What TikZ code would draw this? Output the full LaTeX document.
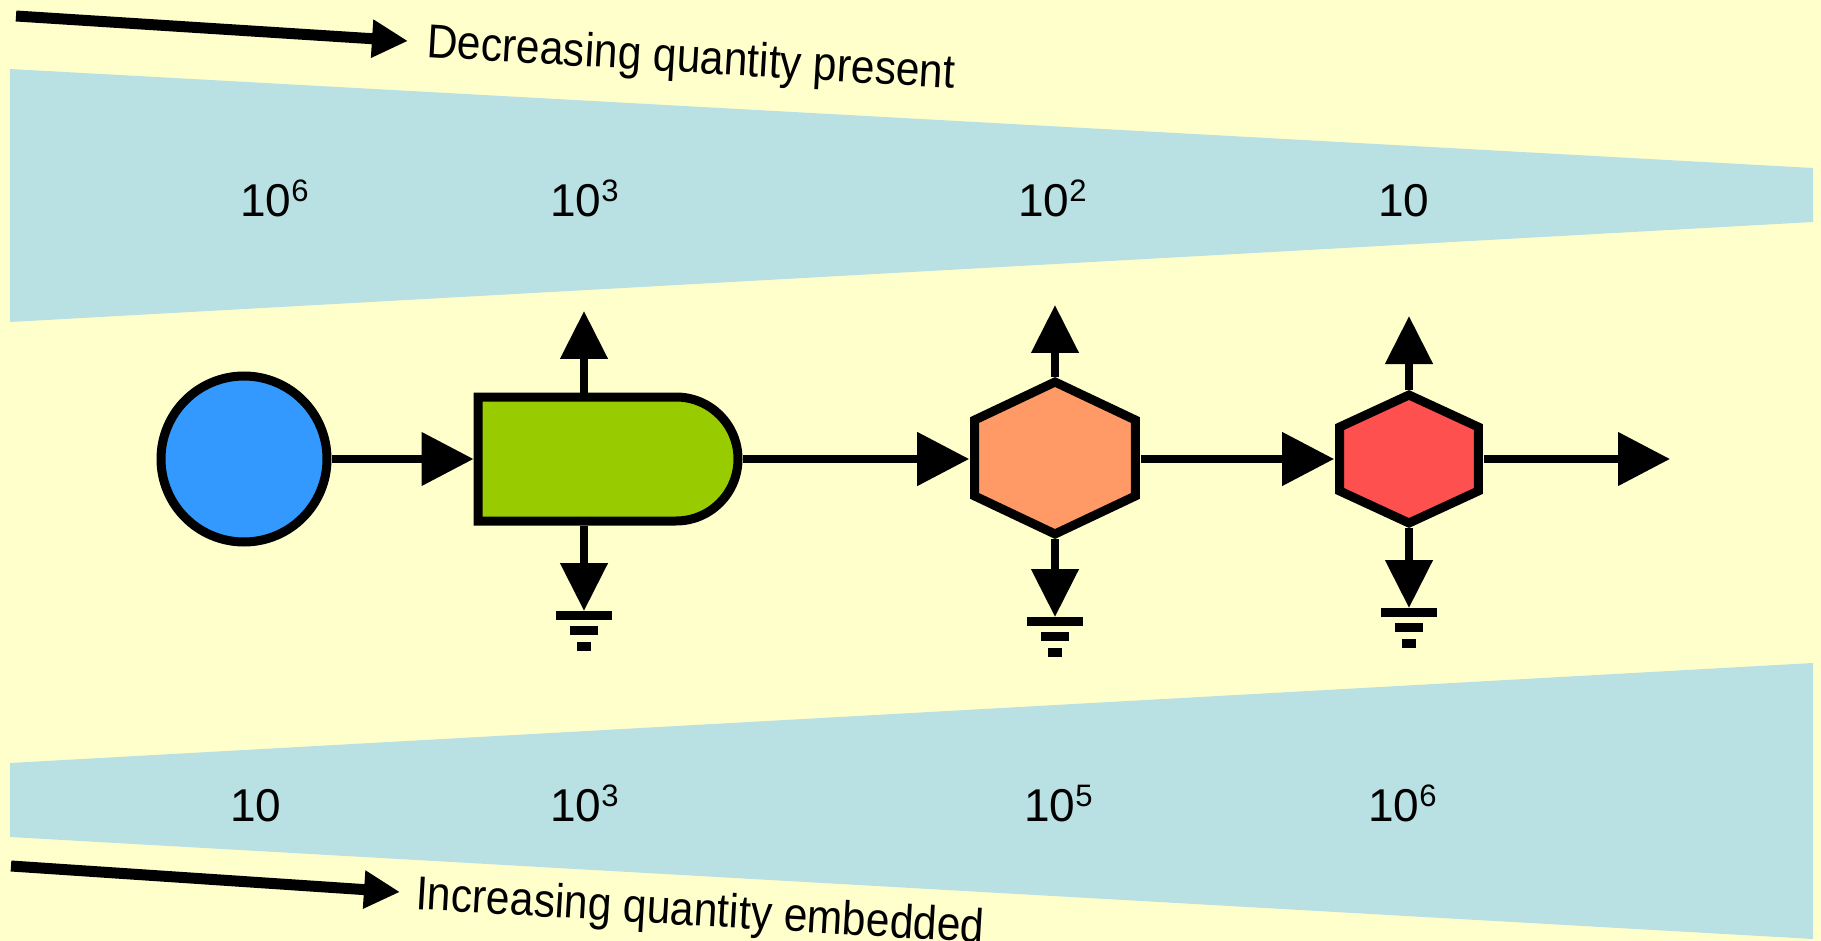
\documentclass[tikz,border=0pt]{standalone}
\usepackage{fontspec}
\setmainfont{Liberation Sans}
\usetikzlibrary{arrows.meta,shapes.geometric,shapes.misc}

\definecolor{paper}{RGB}{255,255,204}
\definecolor{band}{RGB}{185,224,227}
\definecolor{srcblue}{RGB}{51,153,255}
\definecolor{tankgreen}{RGB}{153,204,0}
\definecolor{hexorange}{RGB}{255,153,102}
\definecolor{hexred}{RGB}{255,80,80}

% power of ten exponent
\newcommand{\pw}[1]{\raisebox{15pt}{\fontsize{31pt}{31pt}\selectfont #1}}

\tikzset{
  unit/.style={draw=black,line width=9pt,inner sep=0pt},
  hexa/.style={regular polygon,regular polygon sides=6,shape border rotate=30},
  flow/.style={line width=8pt,-{Triangle[length=52pt,width=52pt]}},
  vent/.style={line width=8pt,-{Triangle[length=48pt,width=46pt]}},
  trend/.style={line width=11pt,-{Triangle[length=36pt,width=36pt]}},
  num/.style={font=\fontsize{46pt}{52pt}\selectfont,anchor=base west,inner sep=0pt},
  note/.style={font=\fontsize{42.5pt}{48pt}\selectfont,anchor=base west,inner sep=0pt,
    rotate=-3.4,yscale=1.12},
  earth/.pic={
    \fill (-28,0) rectangle (28,9);
    \fill (-14,15) rectangle (14,24);
    \fill (-7,31) rectangle (7,40);
  }
}

\begin{document}
\begin{tikzpicture}[x=1pt,y=-1pt]
\fill[paper] (0,0) rectangle (1821,941);
\path[use as bounding box] (0,0) rectangle (1821,941);

% the two bands
\fill[band] (10,69) -- (1813,168) -- (1813,222) -- (10,322) -- cycle;
\fill[band] (10,763) -- (1813,663) -- (1813,939) -- (10,837) -- cycle;

% quantities present
\node[num] (pa) at (240,217) {10\pw{6}};
\node[num] (pb) at (550,217) {10\pw{3}};
\node[num] (pc) at (1018,217) {10\pw{2}};
\node[num] (pd) at (1378,217) {10};
% quantities embedded
\node[num] (ea) at (230,821) {10};
\node[num] (eb) at (550,821) {10\pw{3}};
\node[num] (ec) at (1024,821) {10\pw{5}};
\node[num] (ed) at (1368,821) {10\pw{6}};

% trend arrows
\coordinate (ptail) at (16,16);
\coordinate (phead) at (408,41);
\draw[trend] (ptail) -- (phead);
\node[note] (ptext) at (426,57) {Decreasing quantity present};
\coordinate (etail) at (11,866);
\coordinate (ehead) at (400,892);
\draw[trend] (etail) -- (ehead);
\node[note] (etext) at (415,909) {Increasing quantity embedded};

% process chain
\node[unit,circle,fill=srcblue,minimum size=166pt] (src) at (244,459) {};
\node[unit,rounded rectangle,rounded rectangle left arc=none,fill=tankgreen,
  minimum width=260pt,minimum height=124pt] (tank) at (608,459) {};
\node[unit,hexa,fill=hexorange,minimum size=152pt,xscale=1.22] (hexA) at (1055,458) {};
\node[unit,hexa,fill=hexred,minimum size=128pt,xscale=1.25] (hexB) at (1409,459) {};
\coordinate (out) at (1670,459);

\draw[flow] (src.east) -- (tank.west);
\draw[flow] (tank.east) -- (hexA.west |- tank.east);
\draw[flow] (hexA.east |- tank.east) -- (hexB.west);
\draw[flow] (hexB.east) -- (out);

% vents up and down
\coordinate (tankup) at (584,311);
\coordinate (tankdn) at (584,611);
\draw[vent] (tank.north -| tankup) -- (tankup);
\draw[vent] (tank.south -| tankdn) -- (tankdn);
\pic at (tankdn) {earth};

\coordinate (hexAup) at (1055,305);
\coordinate (hexAdn) at (1055,617);
\draw[vent] (hexA.north) -- (hexAup);
\draw[vent] (hexA.south) -- (hexAdn);
\pic at (hexAdn) {earth};

\coordinate (hexBup) at (1409,316);
\coordinate (hexBdn) at (1409,608);
\draw[vent] (hexB.north) -- (hexBup);
\draw[vent] (hexB.south) -- (hexBdn);
\pic at (hexBdn) {earth};
\end{tikzpicture}
\end{document}
